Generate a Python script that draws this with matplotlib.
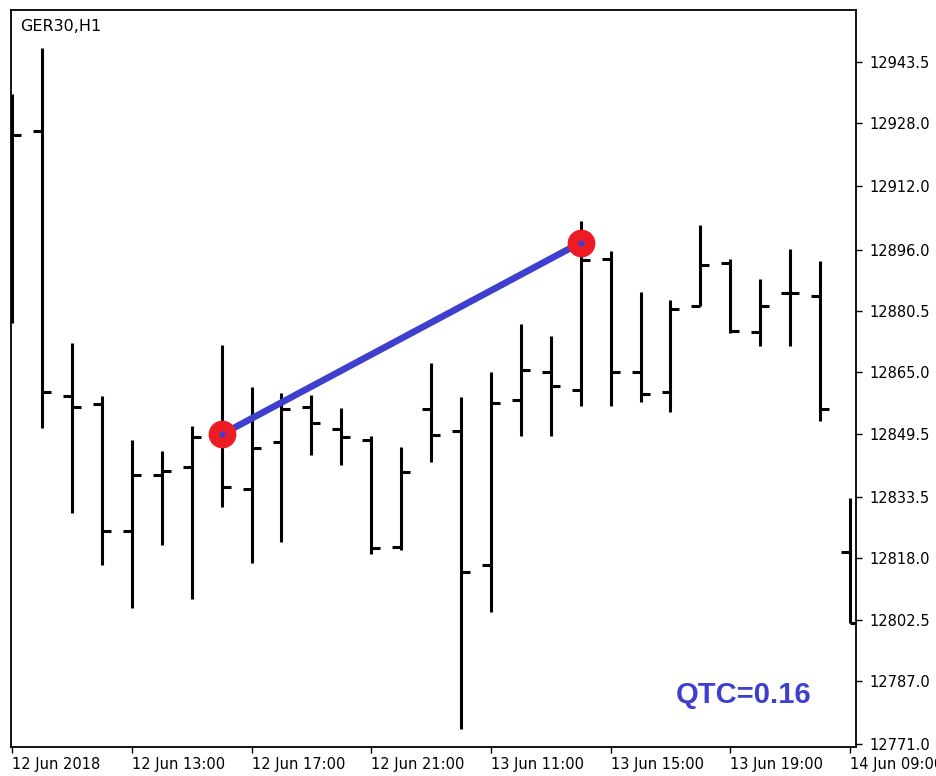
import numpy as np
import matplotlib.pyplot as plt

# ======================
# Data (GER30, H1 bars)
# ======================
opens = [12925.0, 12926.0, 12859.0, 12857.0, 12825.0, 12839.0, 12841.0, 12849.0,
         12835.5, 12847.3, 12856.3, 12850.7, 12847.8, 12820.8, 12855.7, 12850.2,
         12816.2, 12858.1, 12865.2, 12860.5, 12893.6, 12865.2, 12860.0, 12881.7,
         12892.6, 12875.1, 12885.1, 12884.2, 12819.6]
highs = [12935.4, 12947.0, 12872.5, 12859.0, 12848.0, 12845.0, 12851.4, 12872.0,
         12861.3, 12859.8, 12859.4, 12856.0, 12849.0, 12846.2, 12867.4, 12858.8,
         12865.0, 12877.3, 12874.1, 12903.2, 12895.6, 12885.3, 12883.4, 12902.3,
         12893.7, 12888.5, 12896.1, 12893.2, 12833.3]
lows = [12877.6, 12851.0, 12829.5, 12816.3, 12805.4, 12821.4, 12807.7, 12831.0,
        12816.7, 12822.0, 12844.2, 12841.7, 12819.2, 12820.1, 12842.3, 12774.8,
        12804.4, 12848.9, 12848.9, 12856.4, 12856.4, 12857.4, 12855.0, 12881.7,
        12874.9, 12871.6, 12871.6, 12852.6, 12801.6]
closes = [12925.0, 12860.0, 12856.3, 12825.0, 12839.0, 12840.0, 12848.7, 12836.0,
          12845.8, 12855.7, 12852.1, 12848.7, 12820.7, 12839.8, 12849.2, 12814.6,
          12857.2, 12865.7, 12861.5, 12893.5, 12865.1, 12859.6, 12880.9, 12892.1,
          12875.5, 12881.7, 12885.1, 12855.7, 12801.6]

# trend line between two anchor bars
line_bars = [7, 19]
line_prices = [12849.3, 12897.8]

x_tick_pos = [0, 4, 8, 12, 16, 20, 24, 28]
x_tick_labels = ["12 Jun 2018", "12 Jun 13:00", "12 Jun 17:00", "12 Jun 21:00",
                 "13 Jun 11:00", "13 Jun 15:00", "13 Jun 19:00", "14 Jun 09:00"]
y_ticks = [12771.0, 12787.0, 12802.5, 12818.0, 12833.5, 12849.5,
           12865.0, 12880.5, 12896.0, 12912.0, 12928.0, 12943.5]

qtc_value = 0.16

# ======================
# Figure
# ======================
fig = plt.figure(figsize=(9.37, 7.76), dpi=100)
ax = fig.add_axes([11 / 937, 1 - 747 / 776, 845 / 937, 737 / 776])

idx = np.arange(len(opens))
bar_lw = 2.2
tick_len = 0.3

ax.vlines(idx, lows, highs, color="black", linewidth=bar_lw)
ax.hlines(opens, idx - tick_len, idx, color="black", linewidth=bar_lw)
ax.hlines(closes, idx, idx + tick_len, color="black", linewidth=bar_lw)

# trend line with endpoints
ax.plot(line_bars, line_prices, color="#3F3FCF", linewidth=4.8,
        solid_capstyle="butt", zorder=3)
ax.plot(line_bars, line_prices, linestyle="none", marker="o",
        markersize=19, color="#ED1C24", zorder=4)
ax.plot(line_bars, line_prices, linestyle="none", marker="o",
        markersize=3.5, color="#3F3FCF", zorder=5)

# labels
ax.text(0.0107, 0.988, "GER30,H1", transform=ax.transAxes,
        ha="left", va="top", fontsize=11.5, color="black")
ax.text(0.867, 0.0706, f"QTC={qtc_value:.2f}", transform=ax.transAxes,
        ha="center", va="center", fontsize=21, fontweight="bold",
        family="Liberation Sans", color="#3F3FCF")

# ======================
# Axes
# ======================
ax.set_xlim(-0.04, 28.2)
ax.set_ylim(12770.3, 12956.6)

ax.yaxis.tick_right()
ax.set_yticks(y_ticks)
ax.set_yticklabels([f"{v:.1f}" for v in y_ticks])
ax.set_xticks(x_tick_pos)
ax.set_xticklabels(x_tick_labels, ha="left")

ax.tick_params(axis="both", direction="out", length=4, width=1,
               labelsize=10.5, colors="black")
ax.tick_params(axis="y", pad=6)
ax.tick_params(axis="x", pad=3)

for s in ax.spines.values():
    s.set_linewidth(1.3)
    s.set_color("black")

plt.savefig("out.png", dpi=100)
